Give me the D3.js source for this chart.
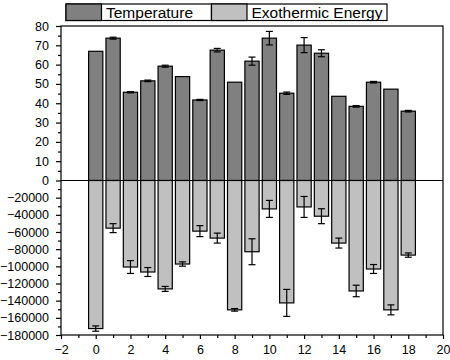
<!DOCTYPE html>
<html>
<head>
<meta charset="utf-8">
<script src="https://cdn.jsdelivr.net/npm/d3@7"></script>
<style>
  body { margin: 0; background: #fff; }
  text { font-family: "Liberation Sans", Arial, sans-serif; }
</style>
</head>
<body>
<div id="chart"></div>
<script>
// sample index 0..18
var samples = d3.range(0, 19);
var temperature = [66.9, 73.7, 45.7, 51.6, 59.2, 53.8, 41.7, 67.5, 50.9, 61.8,
                   73.7, 45.2, 70.1, 65.9, 43.6, 38.4, 50.9, 47.3, 35.9];
var temperatureErr = [0, 0.5, 0.3, 0.4, 0.5, 0, 0.3, 0.9, 0, 2.1,
                      3.5, 0.6, 3.9, 1.8, 0, 0.4, 0.4, 0, 0.4];
var energy = [-172500, -55500, -100800, -106600, -126300, -97300, -59000, -67100, -150700, -83000,
              -33100, -142600, -30800, -41600, -72900, -128700, -103100, -150700, -86900];
var energyErr = [3100, 5200, 7500, 5200, 2900, 2500, 6400, 5800, 1500, 15100,
                 9900, 15700, 12200, 8700, 5800, 6700, 5200, 5800, 2500];
var xTicks = d3.range(-2, 21, 2);
var tempTicks = d3.range(0, 81, 10);
var energyTicks = d3.range(-180000, 0, 20000);
var seriesNames = ["Temperature", "Exothermic Energy"];
var seriesColors = ["#808080", "#c0c0c0"];

var width = 450, height = 360,
    plotLeft = 61, plotRight = 443, plotTop = 26, plotBottom = 335, mid = 180.5;

var x = d3.scaleLinear().domain([-2, 20]).range([plotLeft, plotRight]),
    yTop = d3.scaleLinear().domain([0, 80]).range([mid, plotTop]),
    yBot = d3.scaleLinear().domain([-180000, 0]).range([plotBottom, mid]),
    barW = x(0.82) - x(0);

var svg = d3.select("#chart").append("svg")
    .attr("width", width)
    .attr("height", height);

// bars
svg.append("g").selectAll("rect")
    .data(samples)
    .enter().append("rect")
    .attr("x", i => x(i) - barW / 2)
    .attr("y", i => yTop(temperature[i]))
    .attr("width", barW)
    .attr("height", i => mid - yTop(temperature[i]))
    .attr("fill", seriesColors[0])
    .attr("stroke", "#000")
    .attr("stroke-width", 1.2);

svg.append("g").selectAll("rect")
    .data(samples)
    .enter().append("rect")
    .attr("x", i => x(i) - barW / 2)
    .attr("y", mid)
    .attr("width", barW)
    .attr("height", i => yBot(energy[i]) - mid)
    .attr("fill", seriesColors[1])
    .attr("stroke", "#000")
    .attr("stroke-width", 1.2);

// error bars
function errorBars(vals, errs, scale) {
    var g = svg.append("g").attr("stroke", "#000").attr("stroke-width", 1.2);
    samples.forEach(function(i) {
        if (!errs[i]) return;
        var y1 = scale(vals[i] - errs[i]), y2 = scale(vals[i] + errs[i]), cx = x(i);
        g.append("line").attr("x1", cx).attr("x2", cx).attr("y1", y1).attr("y2", y2);
        g.append("line").attr("x1", cx - 3.5).attr("x2", cx + 3.5).attr("y1", y1).attr("y2", y1);
        g.append("line").attr("x1", cx - 3.5).attr("x2", cx + 3.5).attr("y1", y2).attr("y2", y2);
    });
}
errorBars(temperature, temperatureErr, yTop);
errorBars(energy, energyErr, yBot);

// frame and zero line
svg.append("rect")
    .attr("x", plotLeft).attr("y", plotTop)
    .attr("width", plotRight - plotLeft).attr("height", plotBottom - plotTop)
    .attr("fill", "none").attr("stroke", "#000").attr("stroke-width", 1.2);
svg.append("line")
    .attr("x1", plotLeft).attr("x2", plotRight).attr("y1", mid).attr("y2", mid)
    .attr("stroke", "#000").attr("stroke-width", 1.2);

// axes
function styleAxis(g) {
    g.select(".domain").remove();
    g.selectAll("line").attr("stroke", "#000").attr("stroke-width", 1.2);
    g.selectAll("text").attr("font-size", 12.5).attr("fill", "#000");
}
svg.append("g")
    .attr("transform", `translate(0,${plotBottom})`)
    .call(d3.axisBottom(x).tickValues(d3.range(-1, 20, 2)).tickSize(3).tickFormat(""))
    .call(styleAxis);
svg.append("g")
    .attr("transform", `translate(0,${plotBottom})`)
    .call(d3.axisBottom(x).tickValues(xTicks).tickSize(4).tickPadding(6).tickFormat(d3.format("d")))
    .call(styleAxis);

svg.append("g")
    .attr("transform", `translate(${plotLeft},0)`)
    .call(d3.axisLeft(yTop).tickValues(d3.range(5, 80, 10)).tickSize(3).tickFormat(""))
    .call(styleAxis);
svg.append("g")
    .attr("transform", `translate(${plotLeft},0)`)
    .call(d3.axisLeft(yTop).tickValues(tempTicks).tickSize(5).tickPadding(7).tickFormat(d3.format("d")))
    .call(styleAxis);
svg.append("g")
    .attr("transform", `translate(${plotLeft},0)`)
    .call(d3.axisLeft(yBot).tickValues(d3.range(-170000, 0, 20000)).tickSize(3).tickFormat(""))
    .call(styleAxis);
svg.append("g")
    .attr("transform", `translate(${plotLeft},0)`)
    .call(d3.axisLeft(yBot).tickValues(energyTicks).tickSize(5).tickPadding(7).tickFormat(d3.format("d")))
    .call(styleAxis);

// legend
var legendBoxes = [[66, 101.5, 211.5], [211.5, 247, 387]];
var legend = svg.append("g");
seriesNames.forEach(function(name, k) {
    var b = legendBoxes[k];
    legend.append("rect")
        .attr("x", b[0]).attr("y", 4).attr("width", b[2] - b[0]).attr("height", 16.5)
        .attr("fill", "#fff").attr("stroke", "#000").attr("stroke-width", 1.2);
    legend.append("rect")
        .attr("x", b[0]).attr("y", 4).attr("width", b[1] - b[0]).attr("height", 16.5)
        .attr("fill", seriesColors[k]).attr("stroke", "#000").attr("stroke-width", 1.2);
    legend.append("text")
        .attr("x", b[1] + 4.5).attr("y", 18)
        .attr("font-size", 15.5)
        .text(name);
});
</script>
</body>
</html>
